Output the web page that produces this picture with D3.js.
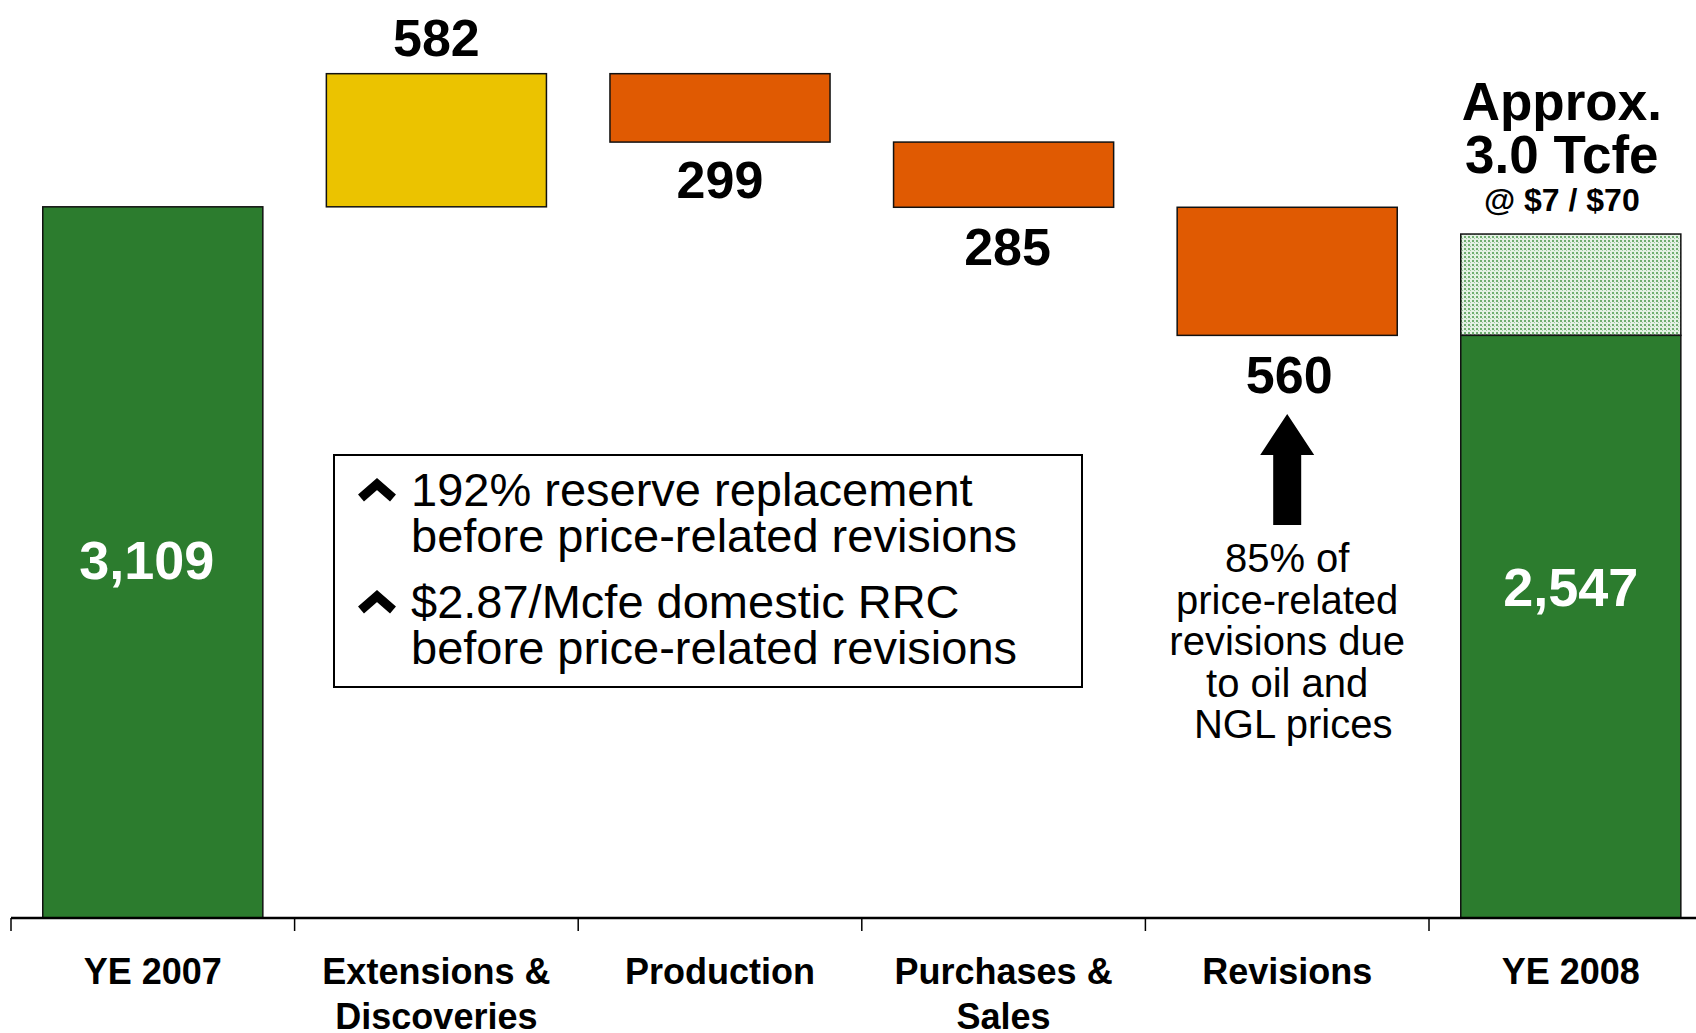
<!DOCTYPE html>
<html>
<head>
<meta charset="utf-8">
<script src="https://cdn.jsdelivr.net/npm/d3@7"></script>
<style>
  body { margin: 0; background: #fff; }
  svg { display: block; font-family: "Liberation Sans", Arial, sans-serif; }
</style>
</head>
<body>
<svg id="svg"></svg>
<script>
var width = 1696;
var height = 1033;

// categories and their axis label lines
const categories = ["YE 2007", "Extensions & Discoveries", "Production", "Purchases & Sales", "Revisions", "YE 2008"];
const axisLabels = [["YE 2007"], ["Extensions &", "Discoveries"], ["Production"], ["Purchases &", "Sales"], ["Revisions"], ["YE 2008"]];
// changes in reserves (Bcfe)
const changes = [3109, 582, -299, -285, -560];
const labels = ["3,109", "582", "299", "285", "560", "2,547"];
const endValue = 2547;
const approxTotal = 2990;  // ~3.0 Tcfe at $7 / $70
const boxLines = [
  ["192% reserve replacement", "before price-related revisions"],
  ["$2.87/Mcfe domestic RRC", "before price-related revisions"]
];
const noteLines = ["85% of", "price-related", "revisions due", "to oil and", "NGL prices"];

const green = "#2c7c2e", yellow = "#ebc300", orange = "#e05a02";

var svg = d3.select("#svg")
    .attr("width", width)
    .attr("height", height);

var baseY = 918;
var x = d3.scaleBand().domain(categories).range([11, 11 + 6 * 283.6]).padding(0);
var y = d3.scaleLinear().domain([0, 4000]).range([baseY, 3]);
var barW = x.bandwidth() * 0.776;
var cx = d => x(d) + x.bandwidth() / 2;

// dotted pattern for the price-related part of YE 2008
var defs = svg.append("defs");
var pat = defs.append("pattern").attr("id", "dots")
    .attr("width", 4).attr("height", 4).attr("patternUnits", "userSpaceOnUse");
pat.append("rect").attr("width", 4).attr("height", 4).attr("fill", "#e4f1e4");
pat.append("rect").attr("width", 2).attr("height", 2).attr("fill", "#6fae6f");
pat.append("rect").attr("x", 2).attr("y", 2).attr("width", 1).attr("height", 1).attr("fill", "#9cc99c");

// build waterfall segments
var segs = [];
var run = 0;
changes.forEach((c, i) => {
  if (i === 0) {
    segs.push({cat: categories[i], lo: 0, hi: c, fill: green});
    run = c;
  } else {
    var lo = c > 0 ? run : run + c;
    var hi = c > 0 ? run + c : run;
    segs.push({cat: categories[i], lo: lo, hi: hi, fill: c > 0 ? yellow : orange});
    run += c;
  }
});
segs.push({cat: categories[5], lo: endValue, hi: approxTotal, fill: "url(#dots)"});
segs.push({cat: categories[5], lo: 0, hi: endValue, fill: green});

svg.append("g").selectAll("rect").data(segs).join("rect")
    .attr("x", d => cx(d.cat) - barW / 2)
    .attr("width", barW)
    .attr("y", d => y(d.hi))
    .attr("height", d => y(d.lo) - y(d.hi))
    .attr("fill", d => d.fill)
    .attr("stroke", "#111")
    .attr("stroke-width", 1.5);

// value labels
var valLabels = [
  {cat: categories[0], dx: -6, text: labels[0], y: y(changes[0] / 2) + 17, fill: "#fff", size: 54},
  {cat: categories[1], dx: 0, text: labels[1], y: y(segs[1].hi) - 18, fill: "#000", size: 52},
  {cat: categories[2], dx: 0, text: labels[2], y: y(segs[2].lo) + 56, fill: "#000", size: 52},
  {cat: categories[3], dx: 4, text: labels[3], y: y(segs[3].lo) + 58, fill: "#000", size: 52},
  {cat: categories[4], dx: 2, text: labels[4], y: y(segs[4].lo) + 58, fill: "#000", size: 52},
  {cat: categories[5], dx: 0, text: labels[5], y: y(approxTotal / 2) + 30, fill: "#fff", size: 54}
];
svg.append("g").selectAll("text").data(valLabels).join("text")
    .attr("x", d => cx(d.cat) + d.dx)
    .attr("y", d => d.y)
    .attr("text-anchor", "middle")
    .attr("font-weight", "bold")
    .attr("font-size", d => d.size)
    .attr("fill", d => d.fill)
    .text(d => d.text);

// Approx. total label
var ax = cx(categories[5]) - 9;
var tg = svg.append("g").attr("text-anchor", "middle").attr("font-weight", "bold");
tg.append("text").attr("x", ax).attr("y", 120).attr("font-size", 53).text("Approx.");
tg.append("text").attr("x", ax).attr("y", 173).attr("font-size", 53).text("3.0 Tcfe");
tg.append("text").attr("x", ax).attr("y", 211).attr("font-size", 32).text("@ $7 / $70");

// axis
svg.append("line")
    .attr("x1", 11).attr("x2", width)
    .attr("y1", baseY).attr("y2", baseY)
    .attr("stroke", "#000").attr("stroke-width", 2.5);
svg.append("g").selectAll("line").data(categories).join("line")
    .attr("x1", d => x(d)).attr("x2", d => x(d))
    .attr("y1", baseY).attr("y2", baseY + 13)
    .attr("stroke", "#000").attr("stroke-width", 1.5);

var al = svg.append("g").selectAll("text").data(categories).join("text")
    .attr("text-anchor", "middle")
    .attr("font-weight", "bold")
    .attr("font-size", 36)
    .attr("fill", "#000");
al.selectAll("tspan").data((d, i) => axisLabels[i].map(t => ({cat: d, t: t})))
  .join("tspan")
    .attr("x", d => cx(d.cat))
    .attr("y", (d, j) => 984 + j * 45)
    .text(d => d.t);

// text box
svg.append("rect")
    .attr("x", 334).attr("y", 455).attr("width", 748).attr("height", 232)
    .attr("fill", "#fff").attr("stroke", "#000").attr("stroke-width", 2);
var bullets = svg.append("g");
boxLines.forEach((lines, i) => {
  var by = 506 + i * 112;
  bullets.append("path")
      .attr("d", `M361,${by - 8} L377,${by - 22} L393,${by - 8}`)
      .attr("fill", "none").attr("stroke", "#000")
      .attr("stroke-width", 9).attr("stroke-linejoin", "miter");
  lines.forEach((t, j) => {
    bullets.append("text")
        .attr("x", 411).attr("y", by + j * 46)
        .attr("font-size", 47)
        .text(t);
  });
});

// arrow and note under Revisions
var rx = cx(categories[4]);
svg.append("path")
    .attr("d", `M${rx},414 L${rx + 27},455 L${rx + 14},455 L${rx + 14},525 L${rx - 14},525 L${rx - 14},455 L${rx - 27},455 Z`)
    .attr("fill", "#000");
svg.append("g").selectAll("text").data(noteLines).join("text")
    .attr("x", (d, i) => rx + (i === 4 ? 6 : 0))
    .attr("y", (d, i) => 572 + i * 41.5)
    .attr("text-anchor", "middle")
    .attr("font-size", 40)
    .text(d => d);
</script>
</body>
</html>
